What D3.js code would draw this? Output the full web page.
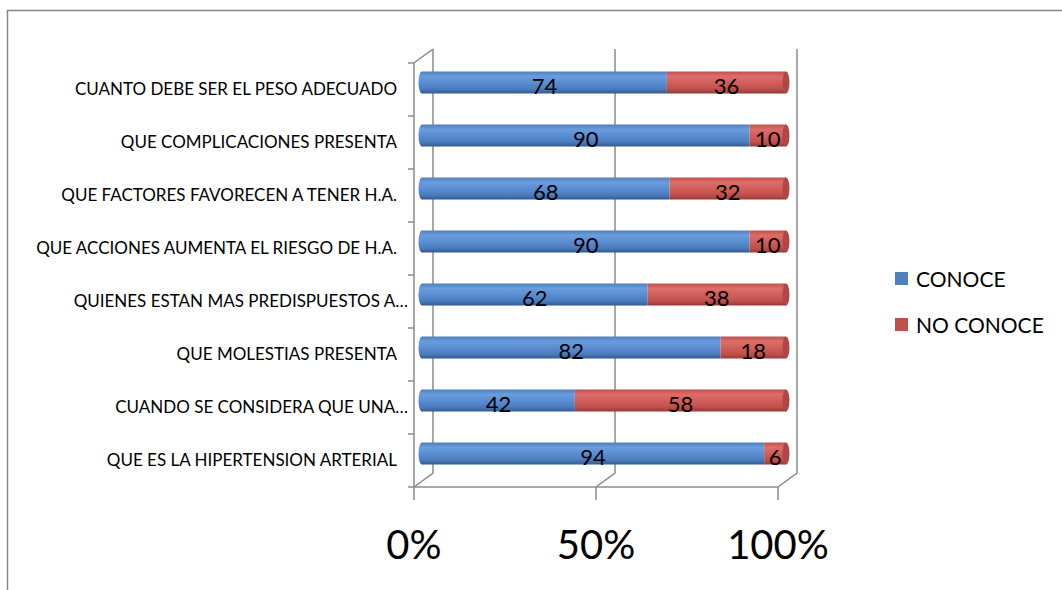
<!DOCTYPE html>
<html>
<head>
<meta charset="utf-8">
<script src="https://cdn.jsdelivr.net/npm/d3@7/dist/d3.min.js"></script>
<style>
  body { margin: 0; background: #fff; }
  svg { display: block; font-family: Lato, "Open Sans", sans-serif; }
</style>
</head>
<body>
<div id="chart"></div>
<script>
// categories top to bottom
const categories = [
  'CUANTO DEBE SER EL PESO ADECUADO',
  'QUE COMPLICACIONES PRESENTA',
  'QUE FACTORES FAVORECEN A TENER H.A.',
  'QUE ACCIONES AUMENTA EL RIESGO DE H.A.',
  'QUIENES ESTAN MAS PREDISPUESTOS A…',
  'QUE MOLESTIAS PRESENTA',
  'CUANDO SE CONSIDERA QUE UNA…',
  'QUE ES LA HIPERTENSION ARTERIAL'
];
const conoce = [74, 90, 68, 90, 62, 82, 42, 94];
const noConoce = [36, 10, 32, 10, 38, 18, 58, 6];
const seriesNames = ['CONOCE', 'NO CONOCE'];
const xTicks = [0, 0.5, 1];

const width = 1062;
const height = 590;

const svg = d3.select('#chart')
  .append('svg')
  .attr('width', width)
  .attr('height', height);

// outer chart frame (runs off right and bottom edges)
svg.append('path')
  .attr('d', `M7.5,${height + 2}V10.5H${width + 2}`)
  .attr('fill', 'none')
  .attr('stroke', '#868686')
  .attr('stroke-width', 1.5);

const x = d3.scaleLinear().domain([0, 1]).range([414, 778]);
const y = d3.scaleBand().domain(categories).range([63, 487]);

// 3d depth of the plot box
const depth = { dx: 19, dy: -14 };
const barShift = { dx: 8, dy: -7 };
const barH = 22;

const data = categories.map((c, i) => {
  const total = conoce[i] + noConoce[i];
  return { cat: c, a: conoce[i], b: noConoce[i], split: conoce[i] / total };
});

const defs = svg.append('defs');
function cylGrad(id, stops) {
  const g = defs.append('linearGradient').attr('id', id)
    .attr('x1', 0).attr('y1', 0).attr('x2', 0).attr('y2', 1);
  stops.forEach(([o, c]) => g.append('stop').attr('offset', o).attr('stop-color', c));
}
cylGrad('gBlue', [[0, '#4f7fbf'], [0.22, '#6a9ddc'], [0.5, '#5b8ed2'], [0.8, '#4a7cbd'], [1, '#33598f']]);
cylGrad('gRed', [[0, '#c0504d'], [0.22, '#de6d69'], [0.5, '#d25f5b'], [0.8, '#c04f4b'], [1, '#963a37']]);

const grid = svg.append('g')
  .attr('fill', 'none')
  .attr('stroke', '#8c8c8c')
  .attr('stroke-width', 1.5);

const yTop = y.range()[0];
const yBot = y.range()[1];

// back wall gridlines + floor connectors
xTicks.forEach(t => {
  const fx = x(t);
  grid.append('path')
    .attr('d', `M${fx + depth.dx},${yTop + depth.dy}V${yBot + depth.dy}L${fx},${yBot}`);
  // tick below front floor
  grid.append('line')
    .attr('x1', fx).attr('x2', fx)
    .attr('y1', yBot).attr('y2', yBot + 13);
});
// front left axis and top side connector
grid.append('path')
  .attr('d', `M${x(0)},${yBot}V${yTop}L${x(0) + depth.dx},${yTop + depth.dy}`);
// front floor line
grid.append('line')
  .attr('x1', x(0)).attr('x2', x(1))
  .attr('y1', yBot).attr('y2', yBot);
// left ticks between categories
const yTicks = categories.map(c => y(c)).concat([yBot]);
grid.selectAll('line.yt')
  .data(yTicks)
  .join('line')
  .attr('class', 'yt')
  .attr('x1', x(0) - 6).attr('x2', x(0))
  .attr('y1', d => d).attr('y2', d => d);

// bars
const bars = svg.append('g');
const bar = bars.selectAll('g')
  .data(data)
  .join('g')
  .attr('transform', d => `translate(${barShift.dx},${y(d.cat) + y.bandwidth() / 2 + barShift.dy})`);

const rx = 3.5;
bar.append('ellipse')
  .attr('cx', x(0)).attr('cy', 0)
  .attr('rx', rx).attr('ry', barH / 2)
  .attr('fill', 'url(#gBlue)');
bar.append('rect')
  .attr('x', x(0)).attr('y', -barH / 2)
  .attr('width', d => x(d.split) - x(0))
  .attr('height', barH)
  .attr('fill', 'url(#gBlue)');
bar.append('rect')
  .attr('x', d => x(d.split)).attr('y', -barH / 2)
  .attr('width', d => x(1) - x(d.split))
  .attr('height', barH)
  .attr('fill', 'url(#gRed)');
bar.append('ellipse')
  .attr('cx', x(1)).attr('cy', 0)
  .attr('rx', rx).attr('ry', barH / 2)
  .attr('fill', '#b04744');

// data labels
bar.append('text')
  .attr('x', d => (x(0) + x(d.split)) / 2)
  .attr('y', 4)
  .attr('dy', '0.35em')
  .attr('text-anchor', 'middle')
  .attr('font-size', 22)
  .text(d => d.a);
bar.append('text')
  .attr('x', d => (x(d.split) + x(1)) / 2)
  .attr('y', 4)
  .attr('dy', '0.35em')
  .attr('text-anchor', 'middle')
  .attr('font-size', 22)
  .text(d => d.b);

// category labels
svg.append('g')
  .selectAll('text')
  .data(categories)
  .join('text')
  .attr('x', d => d.endsWith('…') ? 408 : 397)
  .attr('y', d => y(d) + y.bandwidth() / 2)
  .attr('dy', '0.35em')
  .attr('text-anchor', 'end')
  .attr('font-size', 17)
  .text(d => d);

// x axis labels
svg.append('g')
  .selectAll('text')
  .data(xTicks)
  .join('text')
  .attr('x', d => x(d))
  .attr('y', 559)
  .attr('text-anchor', 'middle')
  .attr('font-size', 40)
  .text(d => d3.format('.0%')(d));

// legend
const colors = ['#4f81bd', '#c0504d'];
const legend = svg.append('g')
  .selectAll('g')
  .data(seriesNames)
  .join('g')
  .attr('transform', (d, i) => `translate(895,${272 + i * 46})`);
legend.append('rect')
  .attr('width', 13).attr('height', 13)
  .attr('fill', (d, i) => colors[i]);
legend.append('text')
  .attr('x', 21)
  .attr('y', 8)
  .attr('dy', '0.35em')
  .attr('font-size', 21)
  .text(d => d);
</script>
</body>
</html>
